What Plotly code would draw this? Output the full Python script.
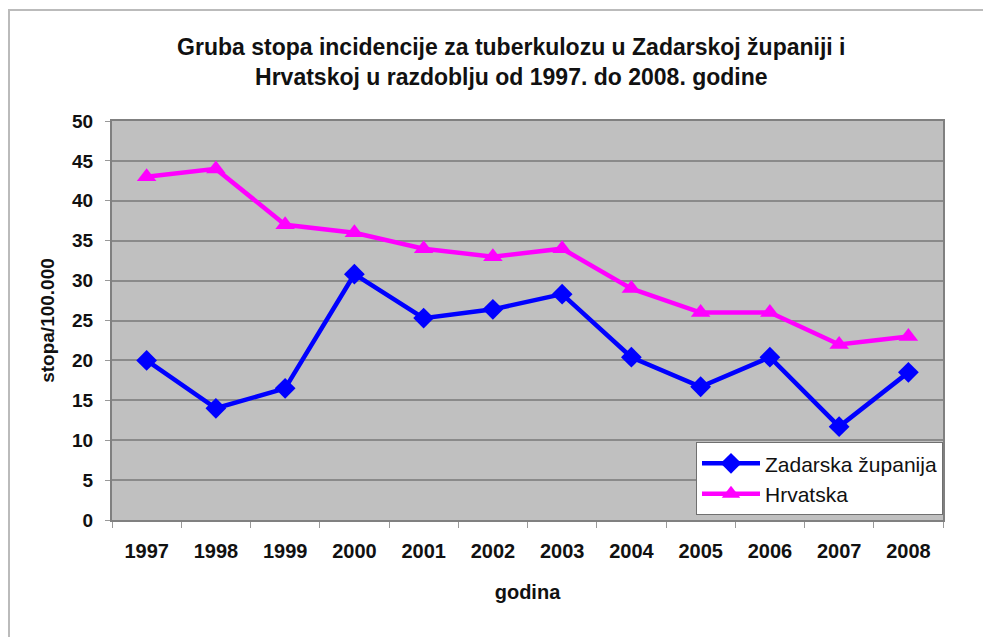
import plotly.graph_objects as go

years = ["1997", "1998", "1999", "2000", "2001", "2002", "2003", "2004", "2005", "2006", "2007", "2008"]
zadarska = [20.0, 14.0, 16.5, 30.8, 25.3, 26.4, 28.3, 20.4, 16.7, 20.4, 11.7, 18.5]
hrvatska = [43, 44, 37, 36, 34, 33, 34, 29, 26, 26, 22, 23]
y_ticks = [0, 5, 10, 15, 20, 25, 30, 35, 40, 45, 50]

FONT = "Liberation Sans, Arial, sans-serif"

W, H = 983, 629
L, R, T, B = 104, 48, 113, 117
PW, PH = W - L - R, H - T - B

fig = go.Figure()
fig.add_trace(go.Scatter(
    x=years, y=zadarska, name="Zadarska županija", mode="lines+markers",
    line=dict(color="#0000FF", width=4.5),
    marker=dict(symbol="diamond", size=16, color="#0000FF"),
))
fig.add_trace(go.Scatter(
    x=years, y=hrvatska, name="Hrvatska", mode="lines+markers",
    line=dict(color="#FF00FF", width=4.5),
    marker=dict(symbol="triangle-up", size=17, color="#FF00FF"),
))

fig.update_layout(
    width=W, height=H,
    paper_bgcolor="white",
    plot_bgcolor="#C0C0C0",
    margin=dict(l=L, r=R, t=T, b=B),
    font=dict(family=FONT, color="#111111"),
    title=dict(
        text="<b>Gruba stopa incidencije za tuberkulozu u Zadarskoj županiji i<br>Hrvatskoj u razdoblju od 1997. do 2008. godine</b>",
        x=0.512, xanchor="center", y=0.925, yanchor="top",
        font=dict(size=23, family=FONT),
    ),
    xaxis=dict(
        type="category",
        tickfont=dict(size=20, family=FONT, weight="bold"),
        ticks="outside", tickson="boundaries", ticklen=6, tickcolor="#999999",
        ticklabelstandoff=12,
        showgrid=False,
        showline=True, linecolor="#808080", linewidth=2, mirror=True,
        title=dict(text="<b>godina</b>", font=dict(size=20, family=FONT), standoff=24),
        range=[-0.5, 11.5],
    ),
    yaxis=dict(
        range=[0, 50], tickvals=y_ticks,
        tickfont=dict(size=19, family=FONT, weight="bold"),
        ticks="outside", ticklen=5, tickcolor="#999999",
        ticklabelstandoff=8,
        showgrid=True, gridcolor="#8A8A8A", gridwidth=1.5,
        showline=True, linecolor="#808080", linewidth=2, mirror=True,
        zeroline=False,
        title=dict(text="<b>stopa/100.000</b>", font=dict(size=19, family=FONT), standoff=12),
    ),
    legend=dict(
        x=1.0, xanchor="right", y=0.012, yanchor="bottom",
        bgcolor="white", bordercolor="#707070", borderwidth=1,
        font=dict(size=21, family=FONT),
        itemwidth=58,
        tracegroupgap=2,
    ),
    shapes=[dict(
        type="rect", xref="paper", yref="paper",
        x0=(1 - L) / PW, x1=(977 - L) / PW,
        y0=-(B + 20) / PH, y1=1 + (T - 2) / PH,
        line=dict(color="#BBBBBB", width=2), fillcolor="rgba(0,0,0,0)", layer="below",
    )],
)

fig.write_html("out.html")
